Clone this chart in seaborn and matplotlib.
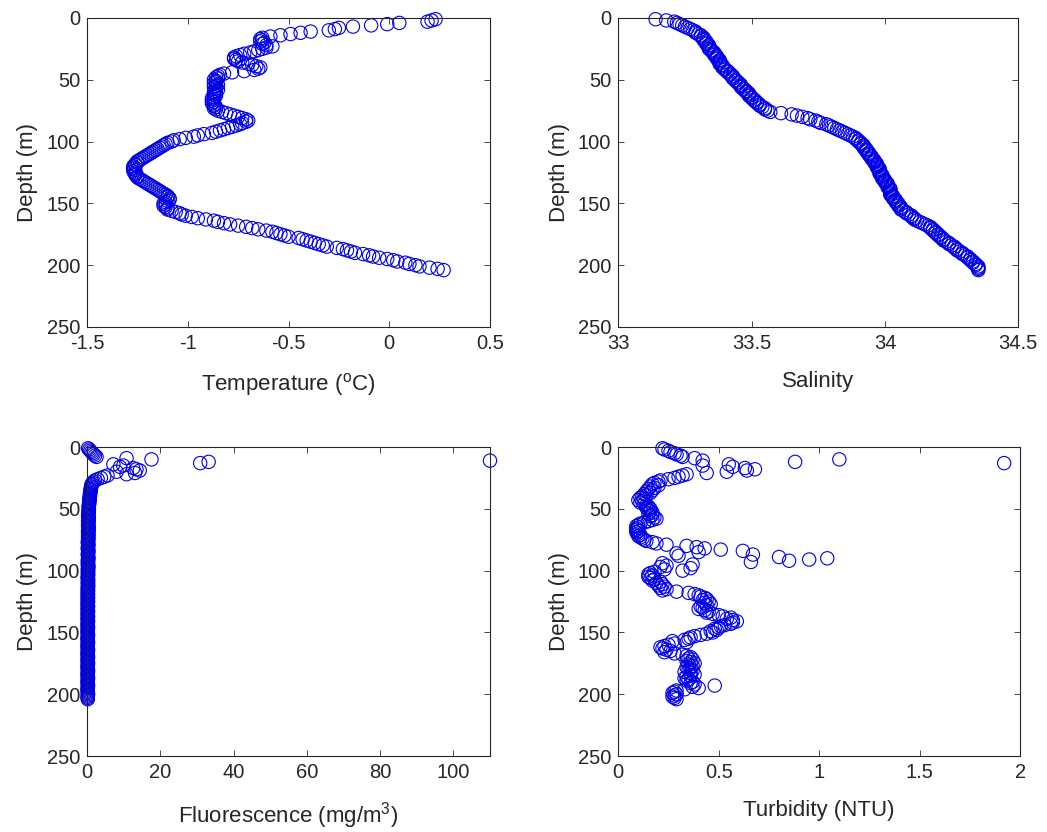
import matplotlib
matplotlib.use('Agg')
import matplotlib.pyplot as plt
from matplotlib.ticker import FuncFormatter
import pandas as pd
import seaborn as sns

# CTD cast, one sample per metre
DEPTH = [
    1, 2, 3, 4, 5, 6, 7, 8, 9, 10, 11, 12, 13, 14, 15, 16, 17, 18, 19, 20,
    21, 22, 23, 24, 25, 26, 27, 28, 29, 30, 31, 32, 33, 34, 35, 36, 37, 38, 39, 40,
    41, 42, 43, 44, 45, 46, 47, 48, 49, 50, 51, 52, 53, 54, 55, 56, 57, 58, 59, 60,
    61, 62, 63, 64, 65, 66, 67, 68, 69, 70, 71, 72, 73, 74, 75, 76, 77, 78, 79, 80,
    81, 82, 83, 84, 85, 86, 87, 88, 89, 90, 91, 92, 93, 94, 95, 96, 97, 98, 99, 100,
    101, 102, 103, 104, 105, 106, 107, 108, 109, 110, 111, 112, 113, 114, 115, 116, 117, 118, 119, 120,
    121, 122, 123, 124, 125, 126, 127, 128, 129, 130, 131, 132, 133, 134, 135, 136, 137, 138, 139, 140,
    141, 142, 143, 144, 145, 146, 147, 148, 149, 150, 151, 152, 153, 154, 155, 156, 157, 158, 159, 160,
    161, 162, 163, 164, 165, 166, 167, 168, 169, 170, 171, 172, 173, 174, 175, 176, 177, 178, 179, 180,
    181, 182, 183, 184, 185, 186, 187, 188, 189, 190, 191, 192, 193, 194, 195, 196, 197, 198, 199, 200,
    201, 202, 203, 204,
]

TEMPERATURE = [
    0.23, 0.21, 0.19, 0.05, -0.01, -0.09, -0.18, -0.25, -0.27, -0.30,
    -0.39, -0.44, -0.49, -0.54, -0.59, -0.63, -0.64, -0.63, -0.64, -0.62,
    -0.63, -0.61, -0.58, -0.61, -0.63, -0.65, -0.67, -0.69, -0.72, -0.74,
    -0.76, -0.77, -0.77, -0.76, -0.75, -0.73, -0.70, -0.68, -0.66, -0.64,
    -0.65, -0.67, -0.72, -0.78, -0.82, -0.84, -0.85, -0.86, -0.85, -0.87,
    -0.86, -0.86, -0.87, -0.85, -0.86, -0.87, -0.86, -0.85, -0.86, -0.87,
    -0.86, -0.87, -0.86, -0.87, -0.88, -0.87, -0.88, -0.87, -0.88, -0.87,
    -0.87, -0.86, -0.87, -0.86, -0.85, -0.83, -0.81, -0.79, -0.77, -0.75,
    -0.73, -0.71, -0.70, -0.71, -0.73, -0.74, -0.76, -0.78, -0.80, -0.82,
    -0.84, -0.86, -0.88, -0.92, -0.95, -0.97, -1.01, -1.04, -1.07, -1.08,
    -1.10, -1.11, -1.12, -1.13, -1.14, -1.15, -1.16, -1.17, -1.18, -1.19,
    -1.20, -1.21, -1.22, -1.23, -1.24, -1.25, -1.25, -1.26, -1.26, -1.27,
    -1.27, -1.27, -1.26, -1.27, -1.26, -1.26, -1.26, -1.25, -1.25, -1.24,
    -1.23, -1.22, -1.21, -1.20, -1.19, -1.18, -1.17, -1.16, -1.15, -1.14,
    -1.13, -1.12, -1.11, -1.10, -1.10, -1.09, -1.09, -1.10, -1.11, -1.12,
    -1.11, -1.12, -1.11, -1.10, -1.10, -1.08, -1.06, -1.04, -1.03, -1.01,
    -0.98, -0.95, -0.91, -0.87, -0.85, -0.82, -0.79, -0.75, -0.71, -0.68,
    -0.65, -0.61, -0.58, -0.56, -0.54, -0.52, -0.50, -0.45, -0.43, -0.41,
    -0.39, -0.37, -0.35, -0.33, -0.31, -0.26, -0.23, -0.21, -0.19, -0.17,
    -0.13, -0.10, -0.08, -0.05, -0.01, 0.02, 0.04, 0.08, 0.10, 0.13,
    0.15, 0.20, 0.24, 0.27,
]

SALINITY = [
    33.14, 33.18, 33.21, 33.22, 33.23, 33.24, 33.25, 33.26, 33.27, 33.28,
    33.29, 33.29, 33.30, 33.31, 33.31, 33.32, 33.32, 33.32, 33.33, 33.33,
    33.33, 33.34, 33.34, 33.34, 33.34, 33.35, 33.35, 33.36, 33.36, 33.36,
    33.37, 33.37, 33.37, 33.38, 33.38, 33.38, 33.38, 33.39, 33.39, 33.39,
    33.40, 33.40, 33.41, 33.41, 33.42, 33.42, 33.43, 33.43, 33.43, 33.44,
    33.44, 33.45, 33.45, 33.46, 33.46, 33.46, 33.47, 33.47, 33.48, 33.48,
    33.49, 33.49, 33.49, 33.50, 33.50, 33.51, 33.51, 33.52, 33.52, 33.53,
    33.53, 33.54, 33.55, 33.55, 33.56, 33.57, 33.61, 33.65, 33.67, 33.69,
    33.71, 33.72, 33.74, 33.75, 33.76, 33.78, 33.79, 33.80, 33.81, 33.82,
    33.83, 33.84, 33.85, 33.86, 33.87, 33.88, 33.89, 33.89, 33.90, 33.90,
    33.91, 33.91, 33.92, 33.92, 33.92, 33.93, 33.93, 33.93, 33.94, 33.94,
    33.94, 33.95, 33.95, 33.95, 33.96, 33.96, 33.96, 33.97, 33.97, 33.97,
    33.97, 33.98, 33.98, 33.98, 33.98, 33.98, 33.99, 33.99, 33.99, 33.99,
    34.00, 34.00, 34.00, 34.01, 34.01, 34.01, 34.01, 34.02, 34.02, 34.02,
    34.02, 34.02, 34.02, 34.03, 34.03, 34.03, 34.04, 34.04, 34.04, 34.05,
    34.05, 34.05, 34.06, 34.06, 34.06, 34.07, 34.08, 34.08, 34.09, 34.10,
    34.10, 34.11, 34.11, 34.12, 34.13, 34.14, 34.15, 34.16, 34.17, 34.17,
    34.18, 34.18, 34.19, 34.19, 34.20, 34.20, 34.21, 34.21, 34.22, 34.22,
    34.23, 34.24, 34.24, 34.25, 34.26, 34.26, 34.27, 34.27, 34.28, 34.29,
    34.29, 34.30, 34.31, 34.31, 34.32, 34.32, 34.33, 34.33, 34.34, 34.34,
    34.35, 34.35, 34.35, 34.35,
]

FLUORESCENCE = [
    0.3, 0.6, 0.9, 1.2, 1.5, 1.8, 2.2, 2.6, 10.8, 17.6,
    110.0, 33.2, 30.9, 7.2, 9.9, 9.0, 12.6, 13.5, 14.4, 8.1,
    13.1, 10.8, 5.6, 4.7, 3.8, 2.9, 2.2, 1.8, 1.5, 1.3,
    1.2, 1.1, 1.1, 1.0, 1.0, 0.9, 0.9, 0.8, 0.8, 0.8,
    0.7, 0.7, 0.7, 0.6, 0.6, 0.6, 0.5, 0.5, 0.5, 0.5,
    0.5, 0.4, 0.5, 0.4, 0.4, 0.3, 0.4, 0.5, 0.4, 0.3,
    0.4, 0.3, 0.4, 0.3, 0.4, 0.5, 0.4, 0.3, 0.3, 0.4,
    0.3, 0.4, 0.3, 0.3, 0.4, 0.3, 0.2, 0.3, 0.4, 0.3,
    0.3, 0.2, 0.3, 0.4, 0.3, 0.3, 0.2, 0.3, 0.3, 0.4,
    0.3, 0.2, 0.3, 0.3, 0.2, 0.3, 0.4, 0.3, 0.2, 0.3,
    0.3, 0.2, 0.3, 0.3, 0.2, 0.2, 0.3, 0.3, 0.2, 0.3,
    0.2, 0.3, 0.3, 0.2, 0.2, 0.3, 0.2, 0.2, 0.3, 0.2,
    0.2, 0.3, 0.2, 0.2, 0.3, 0.2, 0.2, 0.2, 0.3, 0.2,
    0.2, 0.2, 0.3, 0.2, 0.2, 0.2, 0.3, 0.2, 0.2, 0.2,
    0.3, 0.2, 0.2, 0.2, 0.2, 0.3, 0.2, 0.2, 0.2, 0.2,
    0.2, 0.3, 0.2, 0.2, 0.2, 0.2, 0.2, 0.3, 0.2, 0.2,
    0.2, 0.2, 0.2, 0.3, 0.2, 0.2, 0.2, 0.2, 0.2, 0.3,
    0.2, 0.2, 0.2, 0.2, 0.3, 0.2, 0.2, 0.2, 0.2, 0.2,
    0.3, 0.2, 0.2, 0.2, 0.2, 0.2, 0.3, 0.2, 0.2, 0.2,
    0.2, 0.2, 0.3, 0.2, 0.2, 0.2, 0.2, 0.2, 0.2, 0.3,
    0.2, 0.2, 0.2, 0.2,
]

TURBIDITY = [
    0.22, 0.23, 0.25, 0.26, 0.28, 0.29, 0.31, 0.32, 0.38, 1.10,
    0.42, 0.88, 1.92, 0.55, 0.42, 0.57, 0.63, 0.68, 0.64, 0.54,
    0.44, 0.34, 0.32, 0.30, 0.28, 0.25, 0.21, 0.20, 0.18, 0.17,
    0.20, 0.16, 0.18, 0.15, 0.17, 0.14, 0.16, 0.13, 0.14, 0.12,
    0.11, 0.13, 0.10, 0.12, 0.11, 0.13, 0.14, 0.15, 0.14, 0.16,
    0.15, 0.16, 0.17, 0.15, 0.17, 0.16, 0.18, 0.19, 0.17, 0.15,
    0.13, 0.11, 0.10, 0.09, 0.10, 0.09, 0.09, 0.10, 0.09, 0.10,
    0.11, 0.10, 0.11, 0.12, 0.13, 0.14, 0.17, 0.19, 0.24, 0.34,
    0.39, 0.43, 0.51, 0.62, 0.40, 0.29, 0.67, 0.30, 0.80, 1.04,
    0.95, 0.85, 0.66, 0.22, 0.37, 0.24, 0.21, 0.36, 0.23, 0.32,
    0.18, 0.16, 0.15, 0.17, 0.15, 0.16, 0.18, 0.17, 0.21, 0.19,
    0.22, 0.20, 0.23, 0.21, 0.24, 0.22, 0.29, 0.35, 0.38, 0.40,
    0.41, 0.43, 0.44, 0.42, 0.45, 0.43, 0.46, 0.44, 0.41, 0.42,
    0.40, 0.43, 0.45, 0.44, 0.47, 0.50, 0.52, 0.56, 0.54, 0.57,
    0.59, 0.57, 0.56, 0.53, 0.51, 0.50, 0.48, 0.49, 0.46, 0.47,
    0.44, 0.41, 0.38, 0.36, 0.35, 0.33, 0.27, 0.34, 0.28, 0.25,
    0.23, 0.21, 0.22, 0.24, 0.26, 0.23, 0.28, 0.32, 0.34, 0.36,
    0.35, 0.37, 0.34, 0.36, 0.38, 0.35, 0.37, 0.34, 0.36, 0.35,
    0.37, 0.33, 0.36, 0.38, 0.36, 0.34, 0.33, 0.35, 0.34, 0.37,
    0.36, 0.38, 0.48, 0.37, 0.40, 0.33, 0.29, 0.28, 0.27, 0.29,
    0.28, 0.27, 0.28, 0.29,
]

DEPTH_TICKS = [0, 50, 100, 150, 200, 250]

# column, x label, x limits, x ticks, axes rect (left, bottom, width, height)
PANELS = [
    ('temperature', r'Temperature ($^{\mathrm{o}}$C)', (-1.5, 0.5), [-1.5, -1, -0.5, 0, 0.5],
     [0.0831, 0.6070, 0.3849, 0.3714]),
    ('salinity', 'Salinity', (33, 34.5), [33, 33.5, 34, 34.5],
     [0.5905, 0.6070, 0.3821, 0.3714]),
    ('fluorescence', r'Fluorescence (mg/m$^{3}$)', (0, 110), [0, 20, 40, 60, 80, 100],
     [0.0831, 0.0913, 0.3849, 0.3714]),
    ('turbidity', 'Turbidity (NTU)', (0, 2), [0, 0.5, 1, 1.5, 2],
     [0.5905, 0.0913, 0.3839, 0.3714]),
]

AX_COLOR = '#262626'

sns.set_theme(style='white')
plt.rcParams['font.family'] = ['Liberation Sans', 'DejaVu Sans']
plt.rcParams['mathtext.fontset'] = 'custom'
plt.rcParams['mathtext.rm'] = 'Liberation Sans'
plt.rcParams['mathtext.it'] = 'Liberation Sans:italic'
plt.rcParams['axes.unicode_minus'] = False

df = pd.DataFrame({
    'depth': DEPTH,
    'temperature': TEMPERATURE,
    'salinity': SALINITY,
    'fluorescence': FLUORESCENCE,
    'turbidity': TURBIDITY,
})

fig = plt.figure(figsize=(10.47, 8.32), dpi=100)
fmt = FuncFormatter(lambda v, pos: '%g' % v)

for col, xlabel, xlim, xticks, rect in PANELS:
    ax = fig.add_axes(rect)
    sns.scatterplot(data=df, x=col, y='depth', ax=ax, marker='o', s=92,
                    facecolor='none', edgecolor='#0000e6', linewidth=0.8,
                    clip_on=False, legend=False)
    ax.collections[0].set_facecolor('none')
    ax.set_xlim(*xlim)
    ax.set_ylim(250, 0)
    ax.set_xticks(xticks)
    ax.set_yticks(DEPTH_TICKS)
    ax.xaxis.set_major_formatter(fmt)
    ax.yaxis.set_major_formatter(fmt)
    ax.tick_params(direction='in', length=4, width=0.6, color=AX_COLOR,
                   labelsize=14.5, labelcolor=AX_COLOR, pad=5,
                   top=True, right=True, bottom=True, left=True)
    for sp in ax.spines.values():
        sp.set_color(AX_COLOR)
        sp.set_linewidth(0.8)
    ax.set_xlabel(xlabel, fontsize=16, color=AX_COLOR, labelpad=13)
    ax.set_ylabel('Depth (m)', fontsize=16, color=AX_COLOR, labelpad=6)

fig.savefig('out.png', dpi=100)
